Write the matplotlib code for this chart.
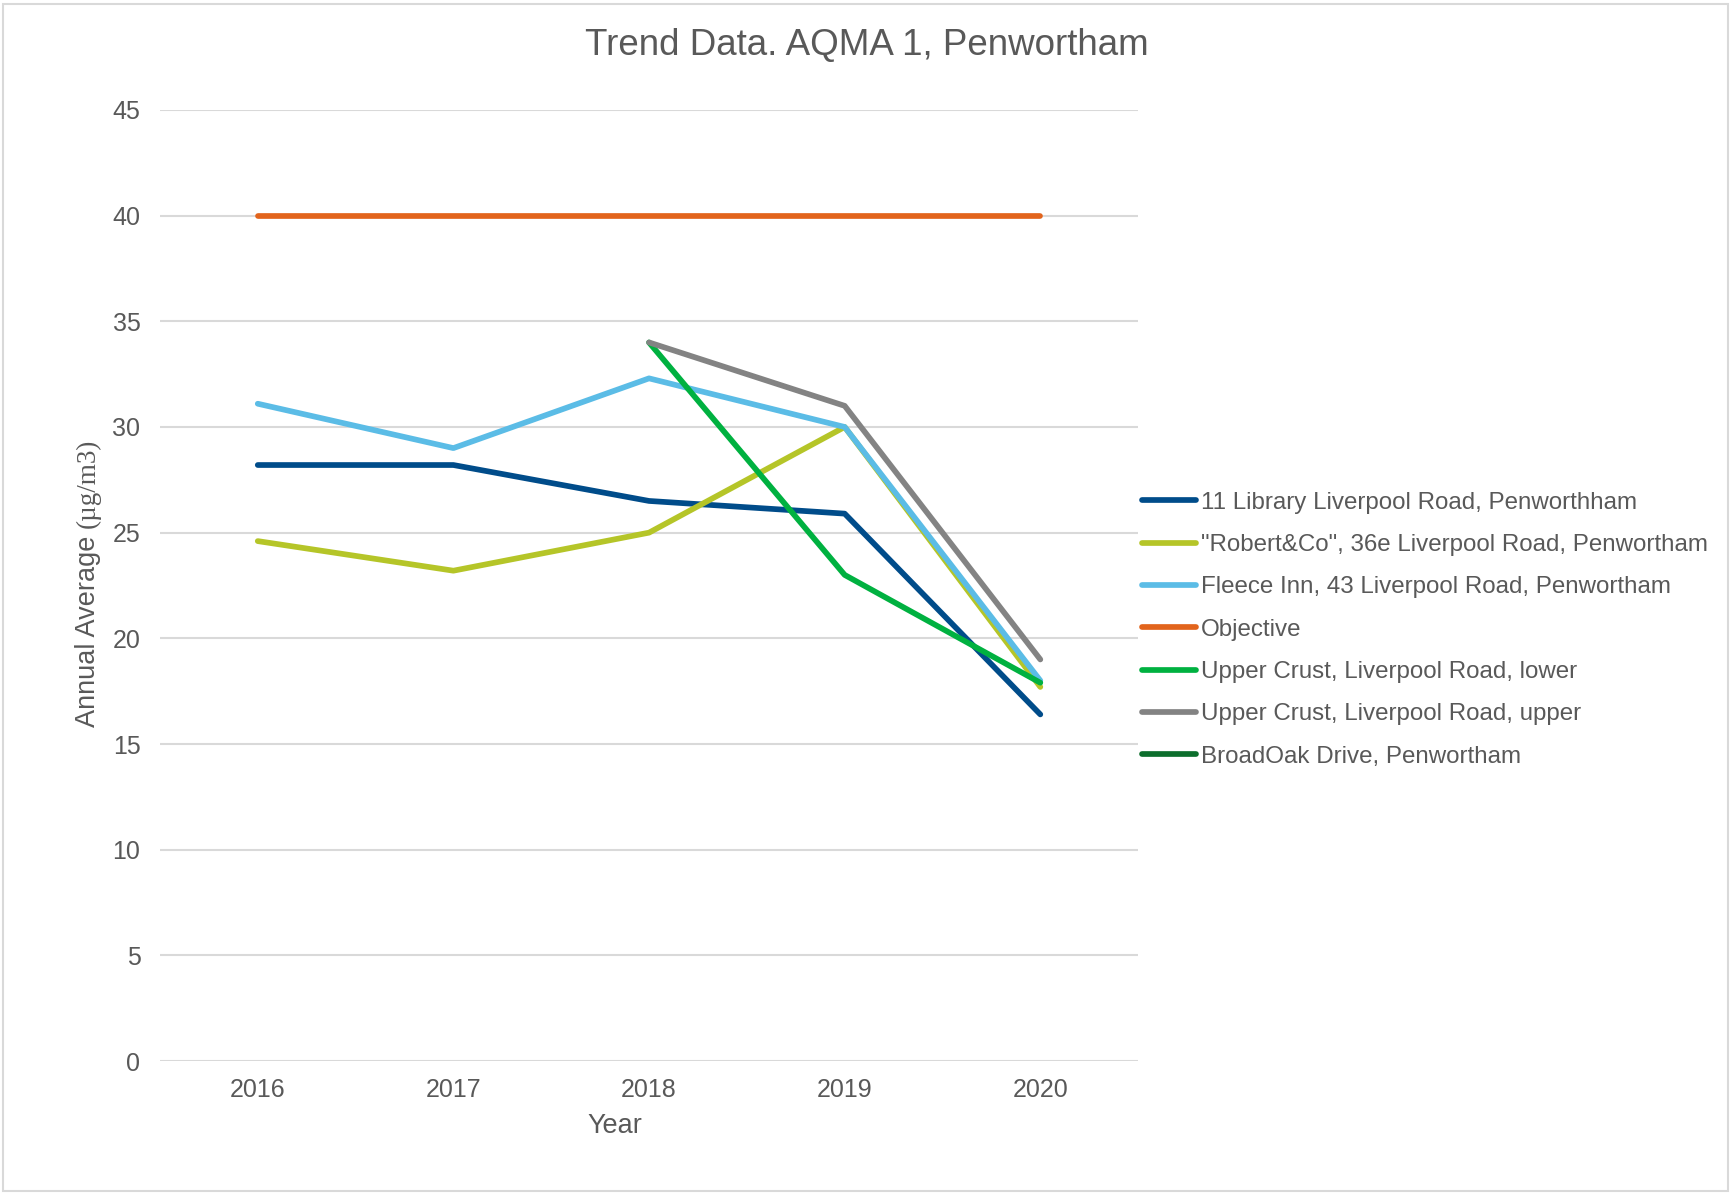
import matplotlib
matplotlib.use("Agg")
import matplotlib.pyplot as plt
from matplotlib.patches import Rectangle

plt.rcParams['font.family'] = ['Liberation Sans', 'DejaVu Sans']

# données
annees = ['2016', '2017', '2018', '2019', '2020']
library = [28.2, 28.2, 26.5, 25.9, 16.4]
robert = [24.6, 23.2, 25.0, 30.0, 17.7]
fleece = [31.1, 29.0, 32.3, 30.0, 18.0]
objectif = [40, 40, 40, 40, 40]
crust_lower = [None, None, 34.0, 23.0, 17.9]
crust_upper = [None, None, 34.0, 31.0, 19.0]
broadoak = [None, None, None, None, None]

series = [
    ('11 Library Liverpool Road, Penworthham', library, '#004C8A'),
    ('"Robert&Co", 36e Liverpool Road, Penwortham', robert, '#B5C528'),
    ('Fleece Inn, 43 Liverpool Road, Penwortham', fleece, '#5BBCE6'),
    ('Objective', objectif, '#E2641C'),
    ('Upper Crust, Liverpool Road, lower', crust_lower, '#00B140'),
    ('Upper Crust, Liverpool Road, upper', crust_upper, '#838383'),
    ('BroadOak Drive, Penwortham', broadoak, '#0C6E2C'),
]

gris_texte = '#595959'

fig = plt.figure(figsize=(17.31, 11.95), dpi=100)
ax = fig.add_axes([0.0924, 0.1121, 0.5651, 0.7959])

x = list(range(len(annees)))
for nom, valeurs, couleur in series:
    y = [float('nan') if v is None else v for v in valeurs]
    ax.plot(x, y, color=couleur, lw=4.1, solid_capstyle='round',
            solid_joinstyle='round', label=nom)

ax.set_xlim(-0.5, len(annees) - 0.5)
ax.set_ylim(0, 45)
ax.set_yticks(range(0, 46, 5))
ax.set_xticks(x)
ax.set_xticklabels(annees)
ax.grid(axis='y', color='#D9D9D9', lw=1.5)
ax.set_axisbelow(True)
for s in ax.spines.values():
    s.set_visible(False)
ax.tick_params(axis='both', length=0, labelsize=18, labelcolor=gris_texte)
ax.tick_params(axis='y', pad=14)
ax.tick_params(axis='x', pad=12)

fig.text(0.501, 0.962, 'Trend Data. AQMA 1, Penwortham', ha='center', va='center',
         fontsize=26.5, color=gris_texte)
fig.text(0.355, 0.058, 'Year', ha='center', va='center', fontsize=19.5, color=gris_texte)

# titre de l'axe y : partie sans-serif puis partie serif
t1 = fig.text(0.051, 1 - 727 / 1195, 'Annual Average ', rotation=90, ha='center',
              va='bottom', fontsize=19.5, color=gris_texte)
fig.canvas.draw()
bb = t1.get_window_extent().transformed(fig.transFigure.inverted())
fig.text(0.051, bb.y1, '(µg/m3)', rotation=90, ha='center', va='bottom',
         fontsize=19.5, color=gris_texte, family=['Liberation Serif', 'DejaVu Serif'])

leg = ax.legend(loc='center left', bbox_to_anchor=(0.660, 0.473), bbox_transform=fig.transFigure,
                frameon=False, fontsize=17.4, handlelength=2.2, handletextpad=0.22,
                labelspacing=0.84, borderaxespad=0, borderpad=0)
for txt in leg.get_texts():
    txt.set_color(gris_texte)

fig.patches.append(Rectangle((0.002, 0.003), 0.996, 0.994, transform=fig.transFigure,
                             fill=False, edgecolor='#D9D9D9', lw=1.5))

fig.savefig('out.png', dpi=100, facecolor='white')
